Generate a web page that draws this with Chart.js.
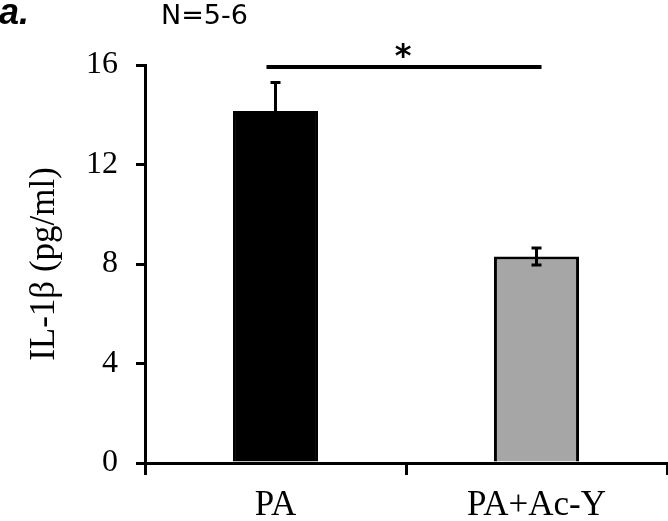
<!DOCTYPE html>
<html>
<head>
<meta charset="utf-8">
<script src="https://cdn.jsdelivr.net/npm/chart.js@4.4.1/dist/chart.umd.min.js"></script>
<style>
  html, body { margin: 0; padding: 0; background: #fff; }
  #wrap { width: 668px; height: 521px; }
</style>
</head>
<body>
<div id="wrap"><canvas id="c" width="668" height="521"></canvas></div>
<script>
const categories = ['PA', 'PA+Ac-Y'];
const means = [14.15, 8.3];
const errors = [1.15, 0.34];
const yTicks = [0, 4, 8, 12, 16];
const barColors = ['#000000', '#a6a6a6'];
const sigLevel = 15.92;
const sigLabel = '*';
const panelLabel = 'a.';
const nLabel = 'N=5-6';
const yTitle = 'IL-1β (pg/ml)';

const serif = '"Liberation Serif", "Times New Roman", serif';

const annot = {
  id: 'annot',
  afterDatasetsDraw(chart) {
    const ctx = chart.ctx;
    const meta = chart.getDatasetMeta(0);
    const y = chart.scales.y;
    ctx.save();
    ctx.strokeStyle = '#000';
    ctx.lineWidth = 3;
    ctx.lineCap = 'butt';
    meta.data.forEach((bar, i) => {
      const x = bar.x;
      const yTop = y.getPixelForValue(means[i] + errors[i]);
      const yBot = y.getPixelForValue(means[i] - errors[i]);
      ctx.beginPath();
      ctx.moveTo(x, yTop); ctx.lineTo(x, yBot);
      ctx.moveTo(x - 5, yTop); ctx.lineTo(x + 5, yTop);
      ctx.moveTo(x - 5, yBot); ctx.lineTo(x + 5, yBot);
      ctx.stroke();
    });
    // significance line
    const x0 = meta.data[0].x - 9;
    const x1 = meta.data[1].x + 5;
    const ys = y.getPixelForValue(sigLevel);
    ctx.lineWidth = 4;
    ctx.beginPath();
    ctx.moveTo(x0, ys); ctx.lineTo(x1, ys);
    ctx.stroke();
    ctx.fillStyle = '#000';
    ctx.font = 'bold 32px "DejaVu Sans", sans-serif';
    ctx.textAlign = 'center';
    ctx.textBaseline = 'alphabetic';
    ctx.fillText(sigLabel, (meta.data[0].x + meta.data[1].x) / 2 - 3, ys - 1);
    // panel labels
    ctx.textAlign = 'left';
    ctx.font = 'italic bold 36px "Liberation Sans", Arial, sans-serif';
    ctx.fillText(panelLabel, -1, 24);
    ctx.font = '27px "DejaVu Sans", sans-serif';
    ctx.fillText(nLabel, 161, 24);
    ctx.restore();
  }
};

new Chart(document.getElementById('c'), {
  type: 'bar',
  data: {
    labels: categories,
    datasets: [{
      data: means,
      backgroundColor: barColors,
      borderColor: '#000',
      borderWidth: 3,
      borderSkipped: 'bottom',
      barPercentage: 0.326,
      categoryPercentage: 1.0
    }]
  },
  options: {
    responsive: false,
    animation: false,
    devicePixelRatio: 1,
    layout: { padding: { top: 65, right: 1, left: 0, bottom: 0 } },
    plugins: { legend: { display: false }, tooltip: { enabled: false } },
    scales: {
      x: {
        grid: { display: true, drawOnChartArea: false, offset: true, tickLength: 12, lineWidth: 3, color: '#000' },
        border: { display: true, color: '#000', width: 3 },
        ticks: { color: '#000', font: { family: serif, size: 35 }, padding: 10, maxRotation: 0 },
        afterFit(scale) { scale.height = 58; }
      },
      y: {
        min: 0, max: 16,
        afterBuildTicks(scale) { scale.ticks = yTicks.map(v => ({ value: v })); },
        grid: { display: true, drawOnChartArea: false, tickLength: 9, lineWidth: 3, color: '#000' },
        border: { display: true, color: '#000', width: 3 },
        ticks: { color: '#000', font: { family: serif, size: 32 }, padding: 18 },
        title: { display: true, text: yTitle, color: '#000', font: { family: serif, size: 35 }, padding: { top: 24, bottom: 0 } },
        afterFit(scale) { scale.width = 145; }
      }
    }
  },
  plugins: [annot]
});
</script>
</body>
</html>
